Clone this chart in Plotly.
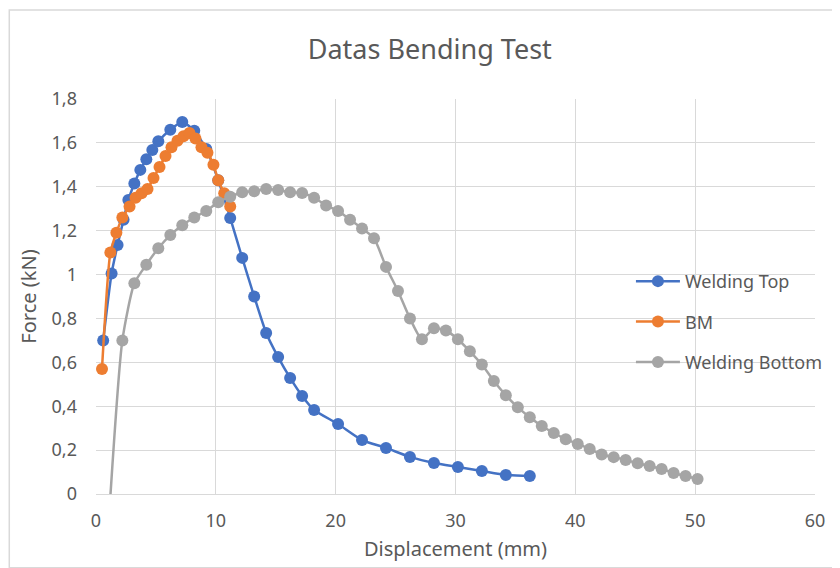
import plotly.graph_objects as go

top_x = [0.6, 1.3, 1.8, 2.3, 2.7, 3.2, 3.7, 4.2, 4.7, 5.2, 6.2, 7.2, 8.2, 9.2, 10.2, 11.2,
         12.2, 13.2, 14.2, 15.2, 16.2, 17.2, 18.2, 20.2, 22.2, 24.2, 26.2, 28.2, 30.2,
         32.2, 34.2, 36.2]
top_y = [0.70, 1.005, 1.135, 1.25, 1.34, 1.415, 1.477, 1.525, 1.568, 1.607, 1.66, 1.695,
         1.655, 1.572, 1.43, 1.258, 1.076, 0.90, 0.734, 0.624, 0.529, 0.447, 0.383, 0.319,
         0.246, 0.21, 0.169, 0.141, 0.123, 0.105, 0.087, 0.082]

bm_x = [0.5, 1.2, 1.7, 2.2, 2.8, 3.3, 3.8, 4.3, 4.8, 5.3, 5.8, 6.3, 6.8, 7.3, 7.8, 8.3,
        8.8, 9.3, 9.8, 10.2, 10.7, 11.2]
bm_y = [0.57, 1.10, 1.19, 1.26, 1.31, 1.35, 1.37, 1.39, 1.44, 1.49, 1.54, 1.58, 1.61,
        1.63, 1.645, 1.62, 1.58, 1.555, 1.50, 1.43, 1.37, 1.31]

bot_x = [1.2, 2.2, 3.2, 4.2, 5.2, 6.2, 7.2, 8.2, 9.2, 10.2, 11.2, 12.2, 13.2, 14.2, 15.2,
         16.2, 17.2, 18.2, 19.2, 20.2, 21.2, 22.2, 23.2, 24.2, 25.2, 26.2, 27.2, 28.2,
         29.2, 30.2, 31.2, 32.2, 33.2, 34.2, 35.2, 36.2, 37.2, 38.2, 39.2, 40.2, 41.2,
         42.2, 43.2, 44.2, 45.2, 46.2, 47.2, 48.2, 49.2, 50.2]
bot_y = [-0.01, 0.70, 0.96, 1.045, 1.12, 1.18, 1.225, 1.26, 1.29, 1.33, 1.355, 1.375,
         1.38, 1.39, 1.385, 1.375, 1.372, 1.35, 1.315, 1.29, 1.25, 1.21, 1.165, 1.035,
         0.925, 0.80, 0.705, 0.755, 0.745, 0.705, 0.65, 0.59, 0.515, 0.45, 0.395, 0.35,
         0.31, 0.278, 0.25, 0.228, 0.205, 0.18, 0.168, 0.155, 0.14, 0.128, 0.114, 0.096,
         0.082, 0.068]

series = [
    ("Welding Top", top_x, top_y, "#4472C4"),
    ("BM", bm_x, bm_y, "#ED7D31"),
    ("Welding Bottom", bot_x, bot_y, "#A5A5A5"),
]

FONT = "Noto Sans"
TXT = "#595959"

fig = go.Figure()
for name, xs, ys, col in series:
    fig.add_trace(go.Scatter(
        x=xs, y=ys, name=name, mode="lines+markers",
        line=dict(color=col, width=2.5, shape="spline", smoothing=0.6),
        marker=dict(color=col, size=12),
        legendgroup=name, cliponaxis=False,
    ))

# page body has an 8px margin: figure sized/offset to compensate
fig.update_layout(
    width=832, height=560,
    margin=dict(l=88, r=23, t=91, b=74),
    paper_bgcolor="white", plot_bgcolor="white",
    separators=", ",
    font=dict(family=FONT, color=TXT, size=18),
    title=dict(text="Datas Bending Test", x=0.507, xanchor="center",
               y=0.925, yanchor="middle", yref="container",
               font=dict(size=27, color=TXT, family=FONT)),
    xaxis=dict(range=[0, 60], dtick=10, tick0=0, showgrid=True, gridcolor="#d9d9d9",
               gridwidth=1, zeroline=False, showline=True, linecolor="#d9d9d9",
               ticks="", tickfont=dict(size=18, color=TXT), ticklabelstandoff=10,
               title=dict(text="Displacement (mm)", font=dict(size=20, color=TXT), standoff=11)),
    yaxis=dict(range=[0, 1.8], dtick=0.2, tick0=0, showgrid=True, gridcolor="#d9d9d9",
               gridwidth=1, zeroline=False, showline=False, ticks="",
               tickformat=".1~f", ticklabelstandoff=18,
               tickfont=dict(size=18, color=TXT),
               title=dict(text="Force (kN)", font=dict(size=20, color=TXT), standoff=9)),
    legend=dict(x=0.744, y=0.585, xanchor="left", yanchor="top",
                bgcolor="rgba(0,0,0,0)", font=dict(size=18, color=TXT),
                tracegroupgap=14, itemwidth=44),
    shapes=[dict(type="rect", xref="paper", yref="paper",
                 x0=-0.1206, x1=1.0305, y0=-0.187, y1=1.2253,
                 line=dict(color="#d9d9d9", width=1.5), fillcolor="rgba(0,0,0,0)",
                 layer="below")],
)

fig.write_html("out.html")
